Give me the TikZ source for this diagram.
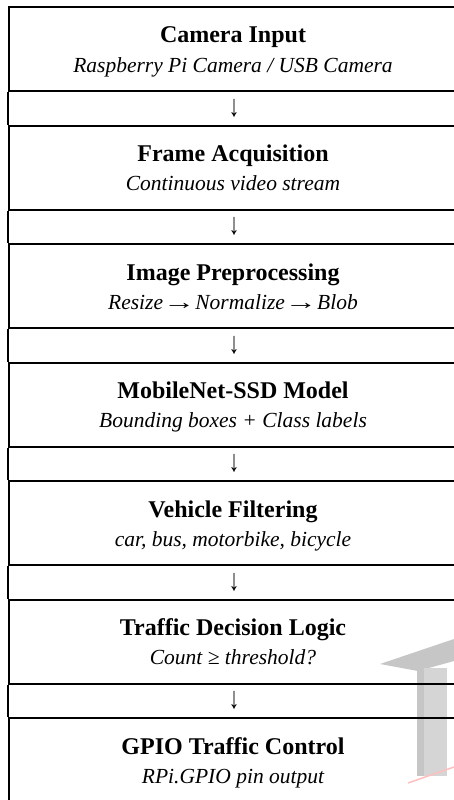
\documentclass[tikz,border=0pt]{standalone}
\usepackage{fontspec}
\setmainfont{Liberation Serif}
\usetikzlibrary{calc}
% arrows drawn wider inside their own advance width
\newcommand\wideto{\setbox0\hbox{→}\hbox to\wd0{\hss\scalebox{1.5}[1]{→}\hss}}
\newcommand\talldown{\scalebox{1}[1.45]{↓}}
\begin{document}
\begin{tikzpicture}[x=1pt,y=-1pt,
  stage/.style={draw, line width=2.2pt, minimum width=450pt, minimum height=84pt,
    anchor=north west, inner sep=0pt},
  title/.style={anchor=base, inner sep=0pt, font=\bfseries\fontsize{24}{28}\selectfont},
  detail/.style={anchor=base, inner sep=0pt, font=\itshape\fontsize{21.5}{25}\selectfont},
  flow/.style={inner sep=0pt, font=\fontsize{21}{25}\selectfont},
  rail/.style={line width=1.3pt},
  mark bar/.style={fill=gray!45},
  mark stem/.style={fill=gray!33}]
\useasboundingbox (0,0) rectangle (454,800);

% faint emblem in the lower right corner
\fill[mark bar] (380,664) -- (454,639) -- (454,661) -- (418,671) -- cycle;
\fill[mark stem] (417,668) rectangle (447,776);
\fill[gray!45] (417,668) rectangle (424,776);
\draw[red!25, line width=1.5pt] (408,783) -- (454,767);

% stages
\node[stage] (b1) at (8,6) {};
\node[stage] (b2) at (8,124.5) {};
\node[stage] (b3) at (8,243) {};
\node[stage] (b4) at (8,361.5) {};
\node[stage] (b5) at (8,480) {};
\node[stage] (b6) at (8,598.5) {};
\node[stage, minimum height=95pt] (b7) at (8,717) {};

\node[title]  (t1) at (233,43) {Camera Input};
\node[detail] (s1) at (233,72) {Raspberry Pi Camera / USB Camera};
\node[title]  (t2) at (233,161.5) {Frame Acquisition};
\node[detail] (s2) at (233,190.5) {Continuous video stream};
\node[title]  (t3) at (233,280) {Image Preprocessing};
\node[detail] (s3) at (233,309) {Resize \wideto{} Normalize \wideto{} Blob};
\node[title]  (t4) at (233,398.5) {MobileNet-SSD Model};
\node[detail] (s4) at (233,427.5) {Bounding boxes + Class labels};
\node[title]  (t5) at (233,517) {Vehicle Filtering};
\node[detail] (s5) at (233,546) {car, bus, motorbike, bicycle};
\node[title]  (t6) at (233,635.5) {Traffic Decision Logic};
\node[detail] (s6) at (233,664.5) {Count ≥ threshold?};
\node[title]  (t7) at (233,754) {GPIO Traffic Control};
\node[detail] (s7) at (233,783) {RPi.GPIO pin output};

% flow rows between the stages
\node[flow] (a1) at ($(b1.south)!0.5!(b2.north)$) {\talldown};
\node[flow] (a2) at ($(b2.south)!0.5!(b3.north)$) {\talldown};
\node[flow] (a3) at ($(b3.south)!0.5!(b4.north)$) {\talldown};
\node[flow] (a4) at ($(b4.south)!0.5!(b5.north)$) {\talldown};
\node[flow] (a5) at ($(b5.south)!0.5!(b6.north)$) {\talldown};
\node[flow] (a6) at ($(b6.south)!0.5!(b7.north)$) {\talldown};

\draw[rail] (b1.south west) -- (b2.north west);
\draw[rail] (b2.south west) -- (b3.north west);
\draw[rail] (b3.south west) -- (b4.north west);
\draw[rail] (b4.south west) -- (b5.north west);
\draw[rail] (b5.south west) -- (b6.north west);
\draw[rail] (b6.south west) -- (b7.north west);
\end{tikzpicture}
\end{document}
